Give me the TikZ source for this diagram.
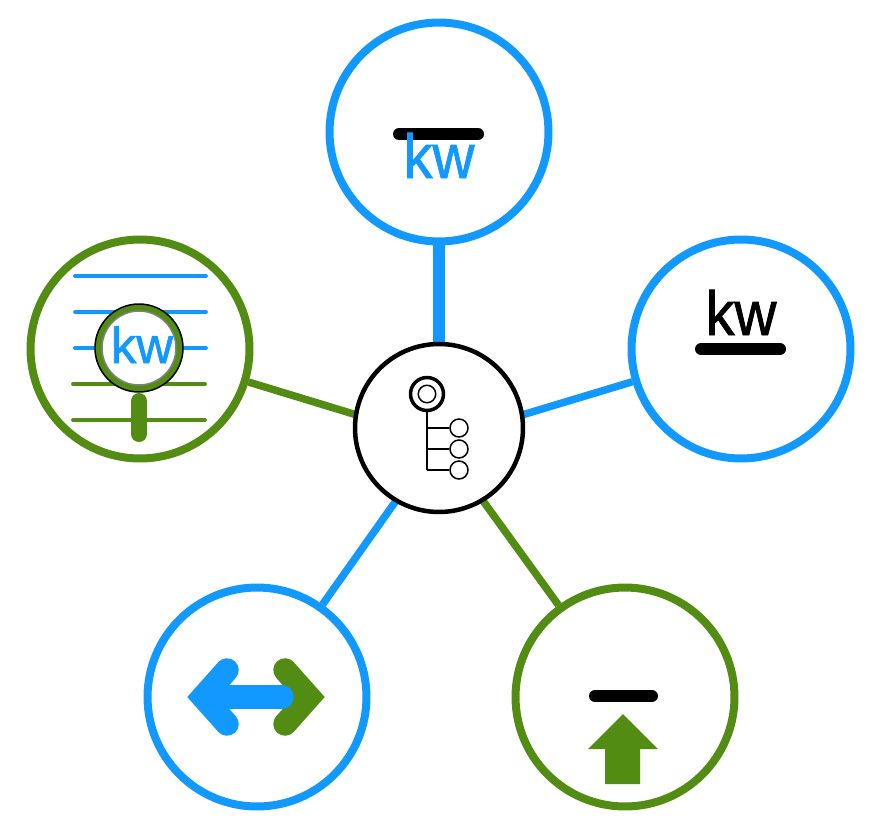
\documentclass[tikz,border=0pt]{standalone}
\usepackage{fontspec}
\setmainfont{Liberation Sans}
\newfontface\kwfont{Liberation Sans}[FakeBold=1.2]
\newfontface\kwtall{Liberation Sans}[FakeBold=1.2, FakeStretch=.93]
\usetikzlibrary{backgrounds}
\definecolor{kwblue}{RGB}{17,153,255}
\definecolor{kwgreen}{RGB}{83,140,19}
\tikzset{
  bigcirc/.style={draw=#1, circle, line width=.16cm, minimum size=4.38cm, fill=white, inner sep=0pt},
  wire/.style={draw=#1, line width=.15cm},
  kwbig/.style={anchor=base, inner sep=0pt, font=\kwtall\fontsize{35.5}{40}\selectfont},
  bar/.style={black, line width=.24cm, line cap=round},
  rule/.style={#1, line width=.075cm, line cap=round},
  chevron/.style={#1, line width=.47cm, line cap=round, line join=miter, miter limit=10},
  leaf/.style={draw, circle, line width=.03cm, minimum size=.36cm, inner sep=0pt, fill=white}
}
\begin{document}
\begin{tikzpicture}[x=.02cm, y=-.02cm]
  \useasboundingbox (0, 0) rectangle (882, 832);
  % outer circles and hub
  \node[draw, circle, line width=.09cm, minimum size=3.36cm, fill=white] (hub) at (439, 428) {};
  \node[bigcirc=kwblue] (top) at (439, 132) {};
  \node[bigcirc=kwblue] (right) at (741, 349) {};
  \node[bigcirc=kwgreen] (left) at (140, 349) {};
  \node[bigcirc=kwblue] (botleft) at (257, 697) {};
  \node[bigcirc=kwgreen] (botright) at (625, 697) {};
  \coordinate (meet) at (439, 440);
  \begin{scope}[on background layer]
    \draw[wire=kwblue, line width=.24cm] (top) -- (hub);
    \draw[wire=kwblue] (right) -- (meet);
    \draw[wire=kwgreen] (left) -- (meet);
    \draw[wire=kwblue] (botleft) -- (meet);
    \draw[wire=kwgreen] (botright) -- (meet);
  \end{scope}
  % hub icon
  \node[draw, circle, line width=.07cm, minimum size=.66cm, inner sep=0pt] (root) at (427, 394) {};
  \node[draw, circle, line width=.03cm, minimum size=.35cm, inner sep=0pt] (rootin) at (427, 394) {};
  \foreach \n/\y in {a/428, b/449, c/470} {
    \node[leaf] (leaf\n) at (459, \y) {};
    \coordinate (fork\n) at (427, \y);
    \draw[line width=.03cm] (fork\n) -- (leaf\n);
  }
  \draw[line width=.03cm] (root) -- (forkc);
  % top
  \draw[bar] (399, 134) -- (478, 134);
  \node[kwbig, text=kwblue] (kwtop) at (439, 178) {kw};
  % right
  \draw[bar] (701, 349) -- (780, 349);
  \node[kwbig] (kwright) at (741, 335) {kw};
  % left, lens over lines
  \foreach \y in {276, 312, 348} \draw[rule=kwblue] (75, \y) -- (206, \y);
  \foreach \y in {384, 420} \draw[rule=kwgreen] (73, \y) -- (205, \y);
  \node[draw=black, circle, line width=.03cm, minimum size=1.76cm, inner sep=0pt, fill=kwgreen] (lensout) at (139, 348) {};
  \node[draw=gray, circle, line width=.03cm, minimum size=1.48cm, inner sep=0pt, fill=white] (lensin) at (139, 348) {};
  \node[kwbig, text=kwblue, font=\kwfont\fontsize{29}{36}\selectfont] (kwleft) at (142, 363) {kw};
  \draw[kwgreen, line width=.32cm, line cap=round] (139, 401) -- (139, 434);
  % bottom left, two way arrow
  \draw[chevron=kwgreen] (285, 670) -- (309, 697) -- (285, 724);
  \draw[chevron=kwblue] (227, 670) -- (203, 697) -- (227, 724);
  \draw[kwblue, line width=.47cm, line cap=round] (203, 697) -- (282, 697);
  % bottom right, arrow under bar
  \draw[bar] (595, 696) -- (652, 696);
  \fill[kwgreen] (623, 714) -- (658, 749) -- (640, 749) -- (640, 784) -- (605, 784) -- (605, 749) -- (588, 749) -- cycle;
\end{tikzpicture}
\end{document}
